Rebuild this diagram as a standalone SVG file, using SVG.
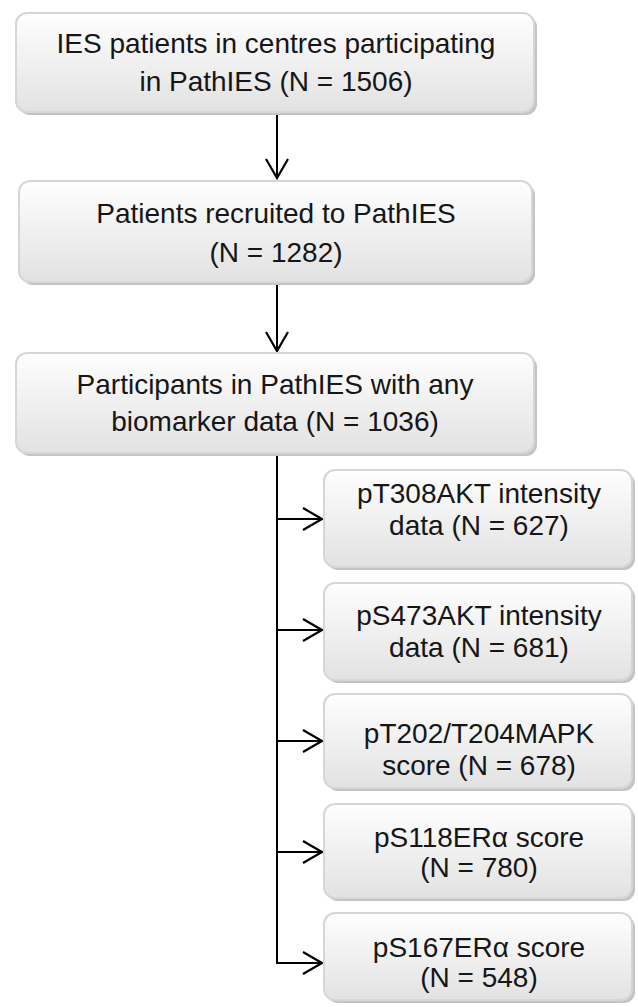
<svg xmlns="http://www.w3.org/2000/svg" width="638" height="1007" viewBox="0 0 638 1007">
<defs>
<linearGradient id="g" x1="0" y1="0" x2="0" y2="1">
<stop offset="0" stop-color="#fefefe"/>
<stop offset="1" stop-color="#e2e2e2"/>
</linearGradient>
<marker id="ah" markerUnits="userSpaceOnUse" markerWidth="24" markerHeight="26" refX="21" refY="12" orient="auto" viewBox="0 0 24 26">
<path d="M2 1 L21 12 L2 23" fill="none" stroke="#000" stroke-width="2.2"/>
</marker>
</defs>
<style>
.sh{fill:#c4c4c4}
.bx{fill:url(#g);stroke:#d6d6d6;stroke-width:2}
.t{font-family:"Liberation Sans",Arial,sans-serif;font-size:28px;fill:#161616;text-anchor:middle}
.c{fill:none;stroke:#000;stroke-width:2}
</style>
<rect width="638" height="1007" fill="#fff"/>
<g id="connectors">
<line class="c" x1="277" y1="115" x2="277" y2="178" marker-end="url(#ah)"/>
<line class="c" x1="277" y1="285" x2="277" y2="351" marker-end="url(#ah)"/>
<line class="c" x1="277" y1="456" x2="277" y2="964"/>
<line class="c" x1="276" y1="519" x2="322" y2="519" marker-end="url(#ah)"/>
<line class="c" x1="276" y1="630" x2="322" y2="630" marker-end="url(#ah)"/>
<line class="c" x1="276" y1="741" x2="322" y2="741" marker-end="url(#ah)"/>
<line class="c" x1="276" y1="852" x2="322" y2="852" marker-end="url(#ah)"/>
<line class="c" x1="276" y1="963" x2="322" y2="963" marker-end="url(#ah)"/>
</g>
<g id="n1">
<rect class="sh" x="19" y="16" width="518" height="99" rx="11"/>
<rect class="bx" x="16" y="13" width="518" height="99" rx="11"/>
<text class="t" x="276" y="53">IES patients in centres participating</text>
<text class="t" x="276" y="91">in PathIES (N = 1506)</text>
</g>
<g id="n2">
<rect class="sh" x="22" y="184" width="513" height="101" rx="11"/>
<rect class="bx" x="19" y="181" width="513" height="101" rx="11"/>
<text class="t" x="276" y="223">Patients recruited to PathIES</text>
<text class="t" x="276" y="262">(N = 1282)</text>
</g>
<g id="n3">
<rect class="sh" x="19" y="356" width="518" height="100" rx="11"/>
<rect class="bx" x="16" y="353" width="518" height="100" rx="11"/>
<text class="t" x="275" y="394">Participants in PathIES with any</text>
<text class="t" x="275" y="431">biomarker data (N = 1036)</text>
</g>
<g id="c1">
<rect class="sh" x="327" y="473" width="308" height="97" rx="11"/>
<rect class="bx" x="324" y="470" width="308" height="97" rx="11"/>
<text class="t" x="479" y="503">pT308AKT intensity</text>
<text class="t" x="479" y="535">data (N = 627)</text>
</g>
<g id="c2">
<rect class="sh" x="327" y="586" width="308" height="97" rx="11"/>
<rect class="bx" x="324" y="583" width="308" height="97" rx="11"/>
<text class="t" x="479" y="625">pS473AKT intensity</text>
<text class="t" x="479" y="657">data (N = 681)</text>
</g>
<g id="c3">
<rect class="sh" x="327" y="697" width="308" height="94" rx="11"/>
<rect class="bx" x="324" y="694" width="308" height="94" rx="11"/>
<text class="t" x="479" y="743">pT202/T204MAPK</text>
<text class="t" x="479" y="775">score (N = 678)</text>
</g>
<g id="c4">
<rect class="sh" x="327" y="807" width="308" height="94" rx="11"/>
<rect class="bx" x="324" y="804" width="308" height="94" rx="11"/>
<text class="t" x="479" y="847">pS118ERα score</text>
<text class="t" x="479" y="877">(N = 780)</text>
</g>
<g id="c5">
<rect class="sh" x="327" y="916" width="308" height="87" rx="11"/>
<rect class="bx" x="324" y="913" width="308" height="87" rx="11"/>
<text class="t" x="479" y="957">pS167ERα score</text>
<text class="t" x="479" y="987">(N = 548)</text>
</g>
</svg>
